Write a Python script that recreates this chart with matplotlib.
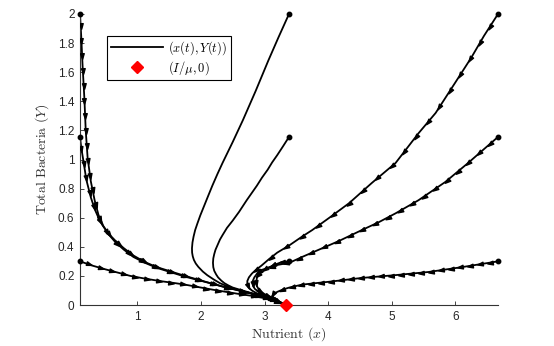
import numpy as np
import matplotlib.pyplot as plt
from matplotlib.markers import MarkerStyle
from matplotlib.path import Path
from matplotlib.transforms import Affine2D

plt.rcParams['mathtext.fontset'] = 'cm'
plt.rcParams['font.family'] = ['Liberation Sans', 'DejaVu Sans']

# equilibrium point (I/mu, 0)
x_eq = [3.333]
y_eq = [0.0]

# trajectories starting at x = 0.1
x_a = [0.1, 0.12, 0.14, 0.17, 0.19, 0.22, 0.27, 0.33, 0.39, 0.47, 0.56, 0.66, 0.79, 0.94, 1.12, 1.31, 1.53, 1.75, 1.97, 2.19, 2.40, 2.61, 2.80, 3.0, 3.17, 3.333]
y_a = [2.0, 1.84, 1.65, 1.41, 1.2, 1.01, 0.85, 0.72, 0.62, 0.54, 0.48, 0.43, 0.38, 0.33, 0.29, 0.255, 0.225, 0.195, 0.17, 0.145, 0.12, 0.10, 0.078, 0.052, 0.028, 0.0]
x_b = [0.1, 0.12, 0.15, 0.2, 0.27, 0.33, 0.39, 0.45, 0.55, 0.66, 0.79, 0.94, 1.12, 1.31, 1.53, 1.75, 1.97, 2.19, 2.40, 2.61, 2.80, 3.0, 3.17, 3.333]
y_b = [1.155, 1.08, 1.0, 0.86, 0.74, 0.66, 0.6, 0.55, 0.49, 0.44, 0.39, 0.34, 0.295, 0.26, 0.23, 0.20, 0.172, 0.145, 0.12, 0.098, 0.078, 0.052, 0.028, 0.0]
x_c = [0.1, 0.3, 0.5, 0.7, 0.89, 1.1, 1.35, 1.6, 1.75, 2.0, 2.19, 2.4, 2.61, 2.8, 3.0, 3.17, 3.333]
y_c = [0.30, 0.27, 0.245, 0.222, 0.20, 0.183, 0.165, 0.15, 0.14, 0.12, 0.105, 0.09, 0.075, 0.063, 0.047, 0.026, 0.0]

# trajectories starting at x = 3.385
x_d = [3.385, 3.22, 3.06, 2.86, 2.66, 2.5, 2.34, 2.26, 2.18, 2.11, 2.05, 1.99, 1.945, 1.91, 1.885, 1.868, 1.86, 1.862, 1.872, 1.89, 1.92, 1.96, 2.03, 2.1, 2.2, 2.30, 2.45, 2.61, 2.75, 2.88, 3.0, 3.12, 3.333]
y_d = [2.0, 1.84, 1.68, 1.47, 1.27, 1.12, 0.976, 0.9, 0.82, 0.745, 0.68, 0.615, 0.56, 0.515, 0.47, 0.43, 0.39, 0.36, 0.335, 0.31, 0.285, 0.262, 0.23, 0.205, 0.176, 0.15, 0.122, 0.10, 0.085, 0.07, 0.055, 0.04, 0.0]
x_e = [3.385, 3.29, 3.2, 3.12, 3.05, 2.96, 2.88, 2.8, 2.72, 2.6, 2.5, 2.41, 2.34, 2.3, 2.26, 2.23, 2.21, 2.195, 2.19, 2.195, 2.21, 2.24, 2.27, 2.32, 2.37, 2.43, 2.5, 2.65, 2.81, 2.95, 3.08, 3.333]
y_e = [1.155, 1.09, 1.03, 0.98, 0.93, 0.875, 0.82, 0.77, 0.72, 0.64, 0.58, 0.53, 0.48, 0.45, 0.41, 0.38, 0.35, 0.32, 0.29, 0.26, 0.235, 0.21, 0.19, 0.168, 0.15, 0.135, 0.12, 0.10, 0.08, 0.063, 0.045, 0.0]
x_f = [3.385, 3.27, 3.15, 3.03, 2.95, 2.9, 2.88, 2.87, 2.88, 2.92, 3.0, 3.1, 3.333]
y_f = [0.30, 0.295, 0.275, 0.25, 0.225, 0.205, 0.185, 0.16, 0.13, 0.10, 0.075, 0.055, 0.0]

# trajectories starting at x = 6.67
x_g = [6.67, 6.45, 6.25, 6.0, 5.69, 5.42, 5.06, 4.69, 4.33, 4.02, 3.75, 3.59, 3.39, 3.2, 3.07, 2.95, 2.86, 2.8, 2.755, 2.73, 2.73, 2.75, 2.8, 2.88, 3.0, 3.15, 3.333]
y_g = [2.0, 1.85, 1.70, 1.53, 1.32, 1.18, 0.976, 0.84, 0.70, 0.60, 0.515, 0.47, 0.41, 0.36, 0.315, 0.27, 0.24, 0.215, 0.19, 0.165, 0.14, 0.12, 0.10, 0.08, 0.057, 0.032, 0.0]
x_h = [6.67, 6.42, 6.2, 5.84, 5.42, 5.06, 4.8, 4.53, 4.17, 3.88, 3.59, 3.39, 3.2, 3.05, 2.95, 2.89, 2.84, 2.81, 2.82, 2.85, 2.95, 3.1, 3.333]
y_h = [1.155, 1.06, 0.976, 0.845, 0.72, 0.63, 0.57, 0.515, 0.44, 0.385, 0.33, 0.29, 0.275, 0.255, 0.24, 0.22, 0.19, 0.16, 0.13, 0.11, 0.075, 0.05, 0.0]
x_i = [6.67, 6.1, 5.58, 5.05, 4.53, 4.02, 3.8, 3.59, 3.39, 3.28, 3.2, 3.14, 3.12, 3.18, 3.333]
y_i = [0.30, 0.26, 0.227, 0.205, 0.186, 0.16, 0.15, 0.14, 0.12, 0.105, 0.09, 0.075, 0.06, 0.035, 0.0]

# spacing of the direction arrows along each path, in pixels (None = no arrows)
trajectories = [
    (x_a, y_a, 15), (x_b, y_b, 15), (x_c, y_c, 12),
    (x_d, y_d, None), (x_e, y_e, None), (x_f, y_f, 9),
    (x_g, y_g, 19), (x_h, y_h, 14), (x_i, y_i, 10),
]

x_ticks = [1, 2, 3, 4, 5, 6]
y_ticks = [0, 0.2, 0.4, 0.6, 0.8, 1, 1.2, 1.4, 1.6, 1.8, 2]
y_ticklabels = ['0', '0.2', '0.4', '0.6', '0.8', '1', '1.2', '1.4', '1.6', '1.8', '2']

fig = plt.figure(figsize=(5.54, 3.46), dpi=100)
ax = fig.add_axes([80 / 554, 41 / 346, 418 / 554, 291 / 346])
ax.set_xlim(0.1, 6.67)
ax.set_ylim(0, 2)

# arrow head shape, pointing along +x
head = Path([(0.6, 0), (-0.6, 0.4), (-0.6, -0.4), (0.6, 0)],
            [Path.MOVETO, Path.LINETO, Path.LINETO, Path.CLOSEPOLY])


def draw_arrows(xs, ys, spacing):
    pts = ax.transData.transform(np.column_stack([xs, ys]))
    seg = np.diff(pts, axis=0)
    seglen = np.hypot(seg[:, 0], seg[:, 1])
    cum = np.concatenate([[0], np.cumsum(seglen)])
    s = spacing * 0.8
    while s < cum[-1] - 6:
        k = np.searchsorted(cum, s) - 1
        k = max(0, min(k, len(seglen) - 1))
        t = (s - cum[k]) / seglen[k]
        p = pts[k] + t * seg[k]
        ang = np.degrees(np.arctan2(seg[k, 1], seg[k, 0]))
        xd, yd = ax.transData.inverted().transform(p)
        m = MarkerStyle(head, transform=Affine2D().rotate_deg(ang))
        ax.plot(xd, yd, marker=m, ms=4, color='k', ls='none', zorder=3)
        s += spacing


for i, (xs, ys, sp) in enumerate(trajectories):
    ax.plot(xs, ys, color='k', lw=1.3, zorder=2,
            label=r'$(x(t),Y(t))$' if i == 0 else None)
    ax.plot(xs[0], ys[0], 'o', color='k', ms=3.2, zorder=3, clip_on=False)
    if sp:
        draw_arrows(xs, ys, sp)

ax.plot(x_eq, y_eq, 'D', color='red', ms=6, ls='none', zorder=5,
        clip_on=False, label=r'$(I/\mu,0)$')

ax.spines['top'].set_visible(False)
ax.spines['right'].set_visible(False)
for sp in ('left', 'bottom'):
    ax.spines[sp].set_color('#333333')
    ax.spines[sp].set_linewidth(0.8)
ax.set_xticks(x_ticks)
ax.set_yticks(y_ticks)
ax.set_yticklabels(y_ticklabels)
ax.tick_params(direction='in', length=3, width=0.6, labelsize=8.5,
               colors='#262626', pad=4)

ax.set_xlabel(r'$\mathrm{Nutrient}\ (x)$', fontsize=10, color='#333333', labelpad=2)
ax.set_ylabel(r'$\mathrm{Total\ Bacteria}\ (Y)$', fontsize=10, color='#333333', labelpad=5)

leg = ax.legend(loc='upper left', bbox_to_anchor=(0.064, 0.926), borderaxespad=0,
                fancybox=False, edgecolor='k', fontsize=9, handlelength=4.2,
                handletextpad=0.4, borderpad=0.3, labelspacing=0.15, framealpha=1)
leg.get_frame().set_linewidth(0.8)

fig.savefig('out.png', dpi=100)
